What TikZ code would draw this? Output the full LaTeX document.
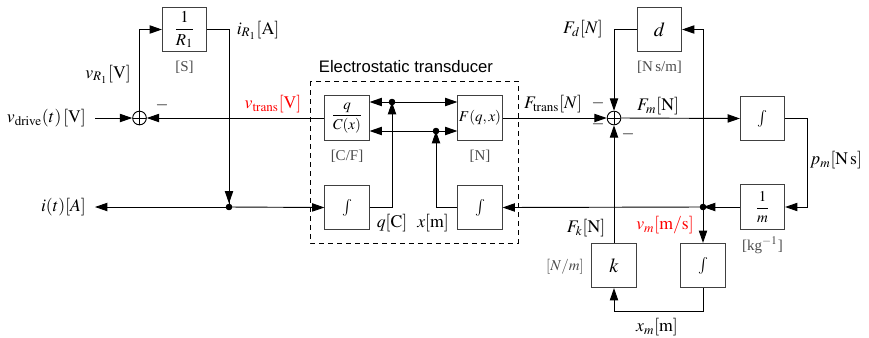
\documentclass[tikz,border=0pt]{standalone}
\usepackage{mathptmx}
\usepackage[no-math]{fontspec}
\setmainfont{Liberation Serif}
\setsansfont{Liberation Sans}
\usetikzlibrary{arrows.meta}
\begin{document}
\begin{tikzpicture}[x=0.6pt,y=-0.6pt,
  >={Triangle[length=7.4pt,width=5pt]},
  line width=0.55pt,
  blk/.style={draw=black!75, line width=0.6pt, minimum width=26.5pt, minimum height=26.5pt, inner sep=0pt},
  sumc/.style={draw, circle, minimum size=8.2pt, inner sep=0pt, fill=white,
    path picture={\draw[line width=0.4pt] (path picture bounding box.north)--(path picture bounding box.south)
      (path picture bounding box.west)--(path picture bounding box.east);}},
  jdot/.style={circle, fill, inner sep=0pt, minimum size=3.8pt},
  unitlbl/.style={text=black!70, font=\small, inner sep=1pt},
  lbl/.style={inner sep=1pt, font=\fontsize{10.6}{12}\selectfont},
  redlbl/.style={lbl, text=red},
  minus/.style={inner sep=0pt}]
\useasboundingbox (0,0) rectangle (869,337);

% ---------- electrical part ----------
\node[blk] (R) at (184.5,29.5) {$\displaystyle\frac{1}{R_1}$};
\node[unitlbl] (Ru) at (184.5,67) {[S]};
\node[sumc] (s1) at (139.5,118) {};
\coordinate (vin) at (95,118);
\node[lbl, anchor=east] (vdl) at (88,118) {$v_{\mathrm{drive}}(t)\,[\mathrm{V}]$};
\node[lbl] (vrl) at (108,74) {$v_{R_1}[\mathrm{V}]$};
\node[lbl] (irl) at (258,30) {$i_{R_1}[\mathrm{A}]$};
\node[minus] (m1) at (162,105) {$-$};
\node[redlbl] (vtl) at (273,104) {$v_{\mathrm{trans}}[\mathrm{V}]$};
\node[jdot] (j1) at (229,207) {};
\coordinate (iout) at (95,207);
\node[lbl, anchor=east] (itl) at (88,207) {$i(t)[A]$};

% ---------- transducer ----------
\draw[dash pattern=on 3pt off 2.4pt, line width=0.55pt] (310,81) rectangle (518,243);
\node[font=\sffamily, inner sep=0pt] (etl) at (406,67) {Electrostatic transducer};
\node[blk] (qc) at (347,118) {\small$\displaystyle\frac{q}{C(x)}$};
\node[unitlbl] (qcu) at (347,156) {[C/F]};
\node[blk] (iq) at (347,207.5) {$\int$};
\node[blk] (F) at (480,118) {\small$F(q,x)$};
\node[unitlbl] (Fu) at (480,156) {[N]};
\node[blk] (ix) at (480,207.5) {$\int$};
\node[jdot] (jq) at (392,102) {};
\node[jdot] (jx) at (436,131) {};
\node[lbl] (ql) at (392,223) {$q[\mathrm{C}]$};
\node[lbl] (xl) at (433,223) {$x[\mathrm{m}]$};

% ---------- mechanical part ----------
\node[sumc] (s2) at (614,118) {};
\node[lbl] (ftl) at (553,104) {$F_{\mathrm{trans}}[N]$};
\node[minus] (m2) at (598,103) {$-$};
\node[minus] (m3) at (598,124) {$-$};
\node[minus] (m4) at (628,134) {$-$};
\node[blk] (d) at (659.5,29.5) {\large$d$};
\node[unitlbl] (du) at (659.5,67) {[N\,s/m]};
\node[lbl] (fdl) at (583,29) {$F_d[N]$};
\node[lbl] (fml) at (658,106) {$F_m[\mathrm{N}]$};
\node[blk] (ip) at (762.5,118.5) {$\int$};
\node[lbl, anchor=west] (pml) at (808,160) {$p_m[\mathrm{N\,s}]$};
\node[blk] (im) at (762.5,207) {\small$\displaystyle\frac{1}{m}$};
\node[unitlbl] (imu) at (762.5,245) {[kg$^{-1}$]};
\node[jdot] (jv) at (703,207) {};
\node[redlbl] (vml) at (665,225) {$v_m[\mathrm{m/s}]$};
\node[blk] (iv) at (703,265.5) {$\int$};
\node[blk] (k) at (614,265.5) {\large$k$};
\node[unitlbl] (ku) at (565,267) {$[N/m]$};
\node[lbl] (fkl) at (586,228) {$F_k[\mathrm{N}]$};
\node[lbl] (xml) at (657,327) {$x_m[\mathrm{m}]$};

% ---------- connectors ----------
\draw[->] (vin) -- (s1.west);
\draw[->] (s1.north) |- (R.west);
\draw (R.east) -| (j1.center);
\draw[->] (R.east -| j1) -- (j1.north);
\draw[->] (qc.west) -- (s1.east);
\draw[->] (j1.center) -- (iout);
\draw[->] (j1.center) -- (iq.west);

\draw[->] (iq.east) -| (jq.center);
\draw[->] (jq.center) -- (jq -| qc.east);
\draw[->] (jq.center) -- (jq -| F.west);
\draw[->] (ix.west) -| (jx.center);
\draw[->] (jx.center) -- (jx -| qc.east);
\draw[->] (jx.center) -- (jx -| F.west);
\node[jdot] at (jq) {};
\node[jdot] at (jx) {};

\draw[->] (F.east) -- (s2.west);
\draw[->] (d.west) -| (s2.north);
\draw[->] (s2.east) -- (ip.west);
\draw[->] (ip.east) -- ++(22,0) |- (im.east);
\draw[->] (im.west) -- (jv.center);
\draw[->] (jv.center) -- (ix.east);
\draw[->] (jv.center) |- (d.east);
\draw[->] (jv.center) -- (iv.north);
\draw[->] (iv.south) -- ++(0,23) -| (k.south);
\draw[->] (k.north) -- (s2.south);
\node[jdot] at (jv) {};
\node[jdot] at (j1) {};
\end{tikzpicture}
\end{document}
